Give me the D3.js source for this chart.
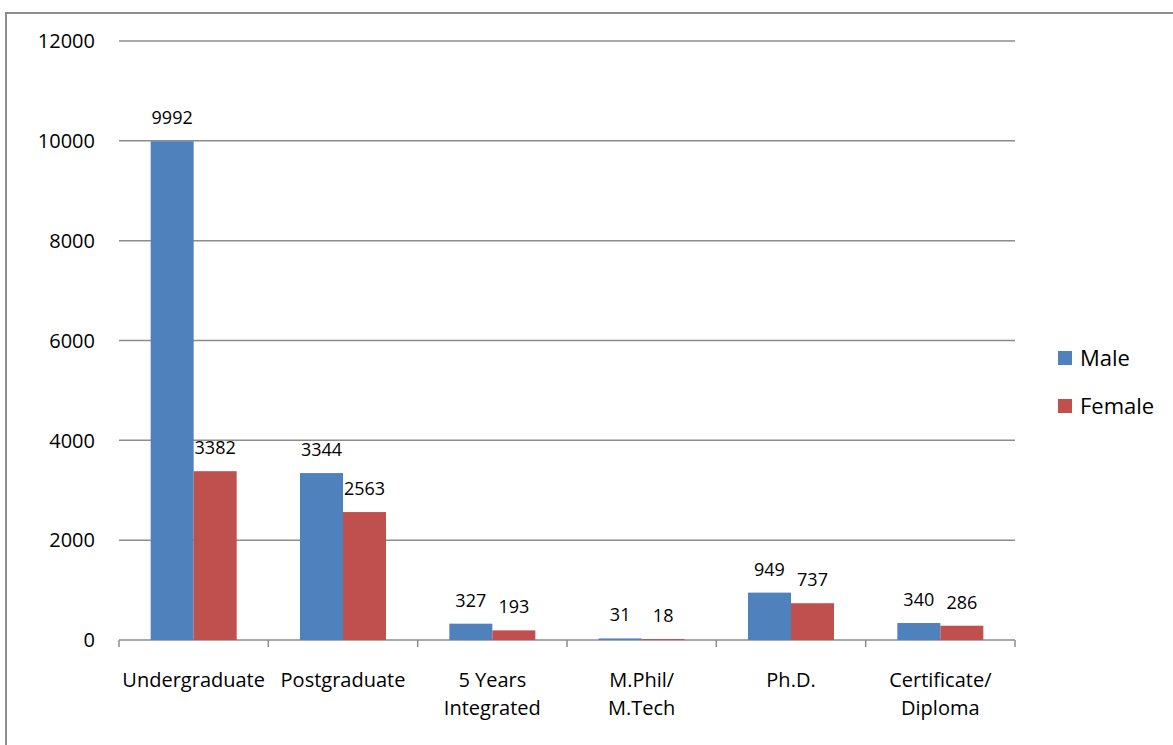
<!DOCTYPE html>
<html>
<head>
<meta charset="utf-8">
<script src="https://cdn.jsdelivr.net/npm/d3@7"></script>
<style>
  body { margin: 0; background: #fff; }
  svg { display: block; font-family: 'Open Sans', sans-serif; }
</style>
</head>
<body>
<svg id="chart"></svg>
<script>
(function() {
  var categories = [
    ['Undergraduate'],
    ['Postgraduate'],
    ['5 Years', 'Integrated'],
    ['M.Phil/', 'M.Tech'],
    ['Ph.D.'],
    ['Certificate/', 'Diploma']
  ];
  var male = [9992, 3344, 327, 31, 949, 340];
  var female = [3382, 2563, 193, 18, 737, 286];
  var seriesNames = ['Male', 'Female'];
  var colors = ['#4F81BD', '#C0504D'];
  var yTicks = [0, 2000, 4000, 6000, 8000, 10000, 12000];

  var width = 1173;
  var height = 745;
  // plot area
  var margin = { top: 41, left: 119, right: 158, bottom: 105 };

  var svg = d3.select('#chart')
    .attr('width', width)
    .attr('height', height);

  // outer frame
  svg.append('path')
    .attr('d', 'M6,' + height + 'V13H' + width)
    .attr('fill', 'none')
    .attr('stroke', '#8c8c8c')
    .attr('stroke-width', 2);

  var x0 = d3.scaleBand()
    .domain(d3.range(categories.length))
    .range([margin.left, width - margin.right])
    .paddingInner(0.424)
    .paddingOuter(0.212);

  var x1 = d3.scaleBand()
    .domain(d3.range(seriesNames.length))
    .range([0, x0.bandwidth()]);

  var y = d3.scaleLinear()
    .domain([0, 12000])
    .range([height - margin.bottom, margin.top]);

  var step = x0.step();

  // gridlines
  svg.append('g')
    .selectAll('line')
    .data(yTicks)
    .enter()
    .append('line')
    .attr('x1', margin.left)
    .attr('x2', width - margin.right)
    .attr('y1', function(d) { return y(d); })
    .attr('y2', function(d) { return y(d); })
    .attr('stroke', '#8c8c8c')
    .attr('stroke-width', 1.5);

  // y labels
  svg.append('g')
    .selectAll('text')
    .data(yTicks)
    .enter()
    .append('text')
    .attr('x', 95)
    .attr('y', function(d) { return y(d); })
    .attr('dy', '0.36em')
    .attr('text-anchor', 'end')
    .attr('font-size', 20)
    .attr('fill', '#000')
    .text(function(d) { return d; });

  // category tick marks
  svg.append('g')
    .selectAll('line')
    .data(d3.range(categories.length + 1))
    .enter()
    .append('line')
    .attr('x1', function(i) { return margin.left + i * step; })
    .attr('x2', function(i) { return margin.left + i * step; })
    .attr('y1', y(0))
    .attr('y2', y(0) + 7)
    .attr('stroke', '#8c8c8c')
    .attr('stroke-width', 1.5);

  var rows = categories.map(function(c, i) {
    return { i: i, values: [male[i], female[i]] };
  });

  var gs = svg.append('g')
    .selectAll('g')
    .data(rows)
    .enter()
    .append('g')
    .attr('transform', function(d) { return 'translate(' + x0(d.i) + ',0)'; });

  // bars
  gs.selectAll('rect')
    .data(function(d) { return d.values; })
    .enter()
    .append('rect')
    .attr('x', function(d, j) { return x1(j); })
    .attr('y', function(d) { return y(d); })
    .attr('width', x1.bandwidth())
    .attr('height', function(d) { return y(0) - y(d); })
    .attr('fill', function(d, j) { return colors[j]; });

  // value labels
  gs.selectAll('text.value')
    .data(function(d) { return d.values; })
    .enter()
    .append('text')
    .attr('class', 'value')
    .attr('x', function(d, j) { return x1(j) + x1.bandwidth() / 2; })
    .attr('y', function(d) { return y(d) - 17; })
    .attr('text-anchor', 'middle')
    .attr('font-size', 18)
    .attr('fill', '#000')
    .text(function(d) { return d; });

  // category labels
  svg.append('g')
    .selectAll('text')
    .data(categories)
    .enter()
    .append('text')
    .attr('x', function(d, i) { return x0(i) + x0.bandwidth() / 2; })
    .attr('y', y(0) + 47)
    .attr('text-anchor', 'middle')
    .attr('font-size', 20)
    .attr('fill', '#000')
    .each(function(d) {
      var t = d3.select(this);
      var cx = t.attr('x');
      d.forEach(function(line, k) {
        t.append('tspan')
          .attr('x', cx)
          .attr('dy', k === 0 ? 0 : 28)
          .text(line);
      });
    });

  // legend
  var lg = svg.append('g')
    .selectAll('g')
    .data(seriesNames)
    .enter()
    .append('g')
    .attr('transform', function(d, i) { return 'translate(1058,' + (351 + i * 48) + ')'; });

  lg.append('rect')
    .attr('width', 14)
    .attr('height', 14)
    .attr('fill', function(d, i) { return colors[i]; });

  lg.append('text')
    .attr('x', 22)
    .attr('y', 7)
    .attr('dy', '0.36em')
    .attr('font-size', 22)
    .attr('fill', '#000')
    .text(function(d) { return d; });
}());
</script>
</body>
</html>
